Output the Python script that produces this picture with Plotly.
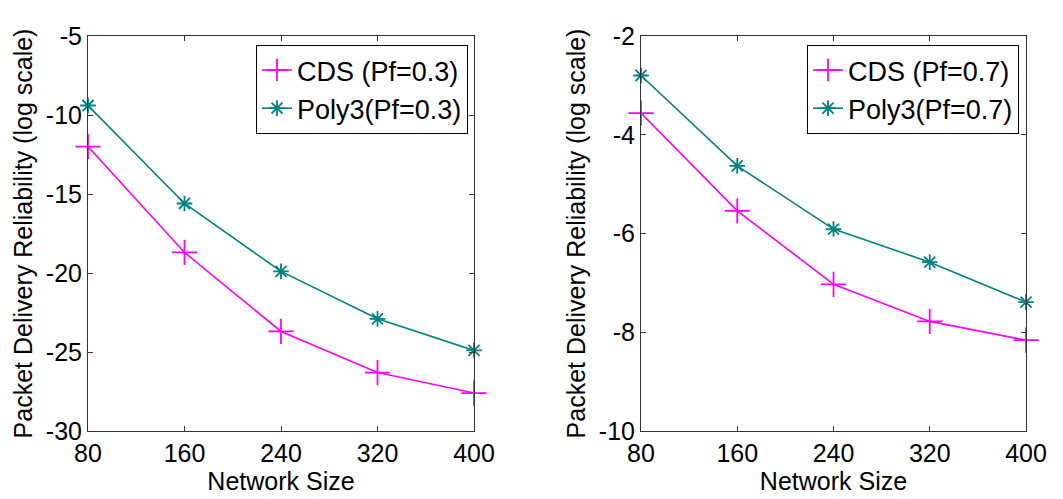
import plotly.graph_objects as go

network_size = [80, 160, 240, 320, 400]
cds_pf03 = [-12.0, -18.7, -23.7, -26.3, -27.6]
poly3_pf03 = [-9.4, -15.6, -19.9, -22.9, -24.9]
cds_pf07 = [-3.56, -5.54, -7.03, -7.78, -8.16]
poly3_pf07 = [-2.8, -4.63, -5.91, -6.58, -7.39]

x_tick_labels = ["80", "160", "240", "320", "400"]
y1_tick_vals = [-30, -25, -20, -15, -10, -5]
y1_tick_labels = ["-30", "-25", "-20", "-15", "-10", "-5"]
y2_tick_vals = [-10, -8, -6, -4, -2]
y2_tick_labels = ["-10", "-8", "-6", "-4", "-2"]

MAGENTA = "#FF00FF"
TEAL = "#008080"
FONT = "Liberation Sans, Arial, sans-serif"

fig = go.Figure()

def add_pair(cds, poly, pf, xa, ya, leg):
    fig.add_trace(go.Scatter(x=network_size, y=cds, mode="lines+markers",
                             name=f"CDS (Pf={pf})", xaxis=xa, yaxis=ya, legend=leg,
                             cliponaxis=False,
                             line=dict(color=MAGENTA, width=1.6),
                             marker=dict(symbol="cross-thin", size=18,
                                         line=dict(color=MAGENTA, width=1.8))))
    fig.add_trace(go.Scatter(x=network_size, y=poly, mode="lines+markers",
                             name=f"Poly3(Pf={pf})", xaxis=xa, yaxis=ya, legend=leg,
                             cliponaxis=False,
                             line=dict(color=TEAL, width=1.6),
                             marker=dict(symbol="asterisk-open", size=13,
                                         line=dict(color=TEAL, width=1.8))))

add_pair(cds_pf03, poly3_pf03, "0.3", "x", "y", "legend")
add_pair(cds_pf07, poly3_pf07, "0.7", "x2", "y2", "legend2")

W, H = 1063, 499
ydom = [(H - 431) / H, (H - 36) / H]

common_x = dict(range=[80, 400], tickvals=network_size, ticktext=x_tick_labels,
                ticks="inside", ticklen=5, automargin=False,
                tickcolor="#333", mirror="allticks", showline=True, linecolor="#333",
                linewidth=1, showgrid=False, zeroline=False,
                tickfont=dict(size=25, color="black", family=FONT),
                title=dict(text="Network Size", font=dict(size=25, color="black", family=FONT),
                           standoff=2))
common_y = dict(ticks="inside", ticklen=5, tickcolor="#333", mirror="allticks",
                showline=True, linecolor="#333", linewidth=1, showgrid=False,
                zeroline=False, domain=ydom, automargin=False,
                tickfont=dict(size=25, color="black", family=FONT),
                title=dict(text="Packet Delivery Reliability (log scale)",
                           font=dict(size=25, color="black", family=FONT), standoff=6))

legend_common = dict(bordercolor="black", borderwidth=1, bgcolor="white",
                     font=dict(size=27, color="black", family=FONT),
                     xanchor="right", yanchor="top", tracegroupgap=0)

fig.update_layout(
    width=W, height=H,
    margin=dict(l=0, r=0, t=0, b=0),
    paper_bgcolor="white", plot_bgcolor="white",
    font=dict(family=FONT, color="black"),
    xaxis=dict(domain=[88 / W, 474 / W], anchor="y", **common_x),
    yaxis=dict(range=[-30, -5], tickvals=y1_tick_vals, ticktext=y1_tick_labels,
               anchor="x", **common_y),
    xaxis2=dict(domain=[641 / W, 1026 / W], anchor="y2", **common_x),
    yaxis2=dict(range=[-10, -2], tickvals=y2_tick_vals, ticktext=y2_tick_labels,
                anchor="x2", **common_y),
    legend=dict(x=468 / W, y=(H - 45) / H, **legend_common),
    legend2=dict(x=1019 / W, y=(H - 45) / H, **legend_common),
)

fig.write_html("out.html", config={"displayModeBar": False},
               post_script="document.body.style.margin='0';document.body.style.overflow='hidden';")
